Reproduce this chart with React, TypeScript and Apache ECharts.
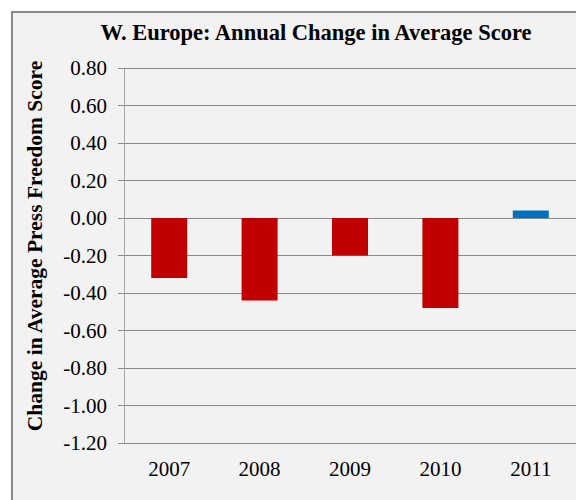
import React, { useEffect, useRef } from "react";
import * as echarts from "echarts";

const categories = ["2007", "2008", "2009", "2010", "2011"];
const values = [-0.32, -0.44, -0.2, -0.48, 0.04];
const titleText = "W. Europe: Annual Change in Average Score";
const yAxisTitle = "Change in Average Press Freedom Score";

const FONT = "Liberation Serif";

export default function App() {
  const ref = useRef<HTMLDivElement>(null);
  useEffect(() => {
    if (!ref.current) return;
    const chart = echarts.init(ref.current, undefined, { renderer: "svg" });
    chart.setOption({
      animation: false,
      backgroundColor: "#ffffff",
      graphic: [
        {
          type: "rect",
          z: -10,
          silent: true,
          shape: { x: 12, y: 12, width: 700, height: 700 },
          style: { fill: "#f2f2f2", stroke: "#898989", lineWidth: 2 },
        },
        {
          type: "text",
          x: 316,
          y: 32,
          style: {
            text: titleText,
            fontFamily: FONT,
            fontWeight: "bold",
            fontSize: 22.5,
            fill: "#000000",
            align: "center",
            verticalAlign: "middle",
          },
        },
        {
          type: "text",
          x: 35,
          y: 246,
          rotation: Math.PI / 2,
          style: {
            text: yAxisTitle,
            fontFamily: FONT,
            fontWeight: "bold",
            fontSize: 21.5,
            fill: "#000000",
            align: "center",
            verticalAlign: "middle",
          },
        },
      ],
      grid: { left: 124, right: 0, top: 68, bottom: 57, containLabel: false },
      xAxis: {
        type: "category",
        data: categories,
        axisLine: { show: false },
        axisTick: { show: false },
        axisLabel: {
          color: "#000000",
          fontFamily: FONT,
          fontSize: 21,
          margin: 15,
        },
      },
      yAxis: {
        type: "value",
        min: -1.2,
        max: 0.8,
        interval: 0.2,
        axisLine: { show: true, lineStyle: { color: "#a6a6a6", width: 1 } },
        axisTick: { show: true, length: 6, lineStyle: { color: "#898989" } },
        splitLine: { show: true, lineStyle: { color: "#898989", width: 1 } },
        axisLabel: {
          color: "#000000",
          fontFamily: FONT,
          fontSize: 21,
          margin: 17,
          formatter: (v: number) => v.toFixed(2),
        },
      },
      series: [
        {
          type: "bar",
          data: values.map((v) => ({
            value: v,
            itemStyle: { color: v < 0 ? "#c00000" : "#0070c0" },
          })),
          barWidth: 36,
        },
      ],
    });
    return () => chart.dispose();
  }, []);
  return (
    <div
      ref={ref}
      style={{ position: "fixed", left: 0, top: 0, width: 576, height: 500 }}
    />
  );
}
